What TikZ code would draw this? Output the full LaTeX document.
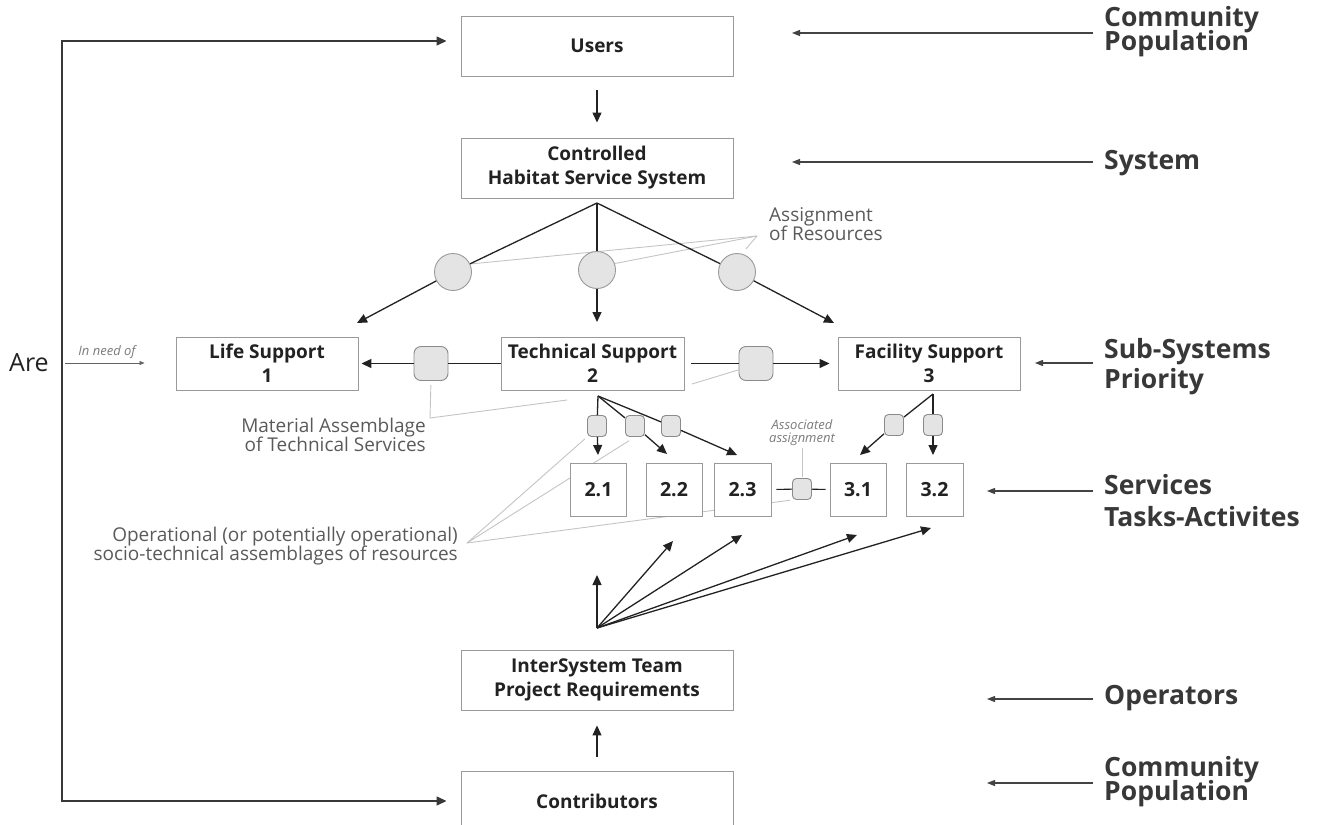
\documentclass[tikz,border=0pt]{standalone}
\usepackage{fontspec}
\setmainfont{Open Sans}
\newfontfamily\ltf{Open Sans}
\usetikzlibrary{arrows.meta}
\pgfdeclarelayer{background}
\pgfsetlayers{background,main}
\definecolor{ink}{HTML}{222222}
\definecolor{frame}{HTML}{9A9A9A}
\definecolor{leadgray}{HTML}{C4C4C4}
\definecolor{knob}{HTML}{E4E4E4}
\definecolor{notegray}{HTML}{5A5A5A}
\newcommand\tightlines{\lineskiplimit=-40pt\lineskip=0pt}
\begin{document}
\begin{tikzpicture}[x=1pt,y=-1pt,
  box/.style={draw=frame, line width=0.9pt, fill=white, inner sep=0pt, align=center,
    text=ink, font=\bfseries\fontsize{19}{24}\selectfont},
  bigbox/.style={box, minimum width=272pt, minimum height=60pt},
  subbox/.style={box, minimum width=182pt, minimum height=53pt},
  svcbox/.style={box, minimum width=56pt, minimum height=53pt, font=\bfseries\fontsize{19.5}{24}\selectfont},
  arr/.style={draw=ink, line width=1.3pt, -{Triangle[length=10pt,width=9pt]}},
  link/.style={draw=ink, line width=1.3pt},
  side/.style={draw=ink!85, line width=1.1pt, -{Triangle[length=8pt,width=6pt]}},
  leader/.style={draw=leadgray, line width=0.9pt},
  disc/.style={circle, draw=frame, fill=knob, line width=0.9pt, minimum size=37pt, inner sep=0pt},
  knobbig/.style={rectangle, rounded corners=7pt, draw=frame!90!black, fill=knob, line width=0.9pt,
    minimum width=34pt, minimum height=34pt, inner sep=0pt},
  knobsmall/.style={rectangle, rounded corners=4pt, draw=frame!90!black, fill=knob, line width=0.9pt,
    minimum width=19pt, minimum height=21pt, inner sep=0pt},
  tag/.style={anchor=west, inner sep=0pt, align=left, text=ink!90,
    font=\bfseries\fontsize{26.5}{24}\selectfont\tightlines},
  note/.style={inner sep=0pt, text=notegray, font=\ltf\fontsize{19}{19}\selectfont\tightlines},
  smallnote/.style={inner sep=0pt, align=center, text=notegray!80, font=\ltf\itshape\fontsize{13}{13}\selectfont\tightlines},
]
\useasboundingbox (0,0) rectangle (1318,825);
\clip (0,0) rectangle (1318,825);

% main column
\node[bigbox] (users) at (597,46) {Users};
\node[bigbox] (ctrl) at (597,168) {Controlled\\Habitat Service System};
\node[subbox] (life) at (267,363.5) {Life Support\\1};
\node[subbox, minimum width=183pt] (tech) at (592.5,363.5) {Technical Support\\2};
\node[subbox] (fac) at (929,363.5) {Facility Support\\3};
\node[svcbox] (s21) at (598.5,489.5) {2.1};
\node[svcbox] (s22) at (674,489.5) {2.2};
\node[svcbox, minimum width=57pt] (s23) at (742.5,489.5) {2.3};
\node[svcbox] (s31) at (858,489.5) {3.1};
\node[svcbox, minimum width=57pt] (s32) at (934.5,489.5) {3.2};
\node[bigbox] (inter) at (597,680) {InterSystem Team\\Project Requirements};
\node[bigbox] (contrib) at (597,801) {Contributors};

% resource assignment discs
\node[disc] (c1) at (453,272) {};
\node[disc] (c2) at (597,270) {};
\node[disc] (c3) at (737,272) {};

% material assemblage knobs
\node[knobbig] (m1) at (431,363.5) {};
\node[knobbig] (m2) at (756,363.5) {};

% service knobs
\node[knobsmall] (ka) at (597,426) {};
\node[knobsmall] (kb) at (635,426) {};
\node[knobsmall] (kc) at (671,426) {};
\node[knobsmall] (kd) at (894,425) {};
\node[knobsmall] (ke) at (933,425) {};
\node[knobsmall] (km) at (802,489) {};

% free points of the fans
\coordinate (capx) at (597,203);
\coordinate (t1) at (357,323);
\coordinate (t2) at (597,322);
\coordinate (t3) at (834,323);
\coordinate (tapx) at (598,396);
\coordinate (ta) at (598,455);
\coordinate (tb) at (667,454);
\coordinate (tc) at (737,455);
\coordinate (fapx) at (933,394);
\coordinate (td) at (860,455);
\coordinate (te) at (933,455);
\coordinate (bapx) at (597,628);
\coordinate (u0) at (597,575);
\coordinate (u1) at (673,541);
\coordinate (u2) at (742,535);
\coordinate (u3) at (857,535);
\coordinate (u4) at (931,528);

% labels
\node[anchor=center, inner sep=0pt, text=ink, font=\fontsize{25}{26}\selectfont] (are) at (29,363) {Are};
\node[smallnote] (need) at (107,352) {In need of};
\node[smallnote] (assoc) at (802,433) {Associated\\assignment};
\node[note, anchor=west, align=left] (asgn) at (769,224) {Assignment\\of Resources};
\node[note, anchor=east, align=right] (mat) at (426,434.5) {Material Assemblage\\of Technical Services};
\node[note, anchor=east, align=right] (oper) at (458,546.5) {Operational (or potentially operational)\\socio-technical assemblages of resources};

\node[tag] (tcom) at (1104,32) {Community\\Population};
\node[tag] (tsys) at (1104,163) {System};
\node[tag, font=\bfseries\fontsize{26.5}{30}\selectfont\tightlines] (tsub) at (1104,367) {Sub-Systems\\Priority};
\node[tag, font=\bfseries\fontsize{26.5}{32}\selectfont\tightlines] (tsvc) at (1104,501) {Services\\Tasks-Activites};
\node[tag] (topr) at (1104,698) {Operators};
\node[tag] (tcom2) at (1104,782) {Community\\Population};

% leader lines behind everything
\begin{pgfonlayer}{background}
  \coordinate (asg) at (757,236);
  \draw[leader] (asg) -- (c1.25);
  \draw[leader] (asg) -- (c2.20);
  \draw[leader, shorten >=6pt] (asg) -- (c3.75);
  \coordinate (mbend) at (430,418);
  \coordinate (mend) at (567,400);
  \coordinate (mseg) at (692,384);
  \draw[leader, shorten <=4pt] (m1.south) -- (mbend) -- (mend);
  \draw[leader] (mseg) -- (m2.200);
  \coordinate (opc) at (467,543);
  \draw[leader, shorten >=3pt] (opc) -- (ka.south west);
  \draw[leader, shorten >=7pt] (opc) -- (kb.south);
  \draw[leader, shorten >=2pt] (opc) -- (km.south west);
  \draw[leader, shorten <=2pt, shorten >=1pt] (assoc.south) -- (km.north);
\end{pgfonlayer}

% connectors
\draw[arr, shorten <=14pt, shorten >=15pt] (users.south) -- (ctrl.north);
\draw[link] (capx) -- (c1);
\draw[link] (capx) -- (c2);
\draw[link] (capx) -- (c3);
\draw[arr] (c1) -- (t1);
\draw[arr] (c2) -- (t2);
\draw[arr] (c3) -- (t3);

\draw[link] (tech.west) -- (m1);
\draw[arr, shorten >=3pt] (m1) -- (life.east);
\draw[link, shorten <=7pt] (tech.east) -- (m2);
\draw[arr, shorten >=8pt] (m2) -- (fac.west);

\draw[link] (tapx) -- (ka);
\draw[link] (tapx) -- (kb);
\draw[link] (tapx) -- (kc);
\draw[arr] (ka) -- (ta);
\draw[arr] (kb) -- (tb);
\draw[arr] (kc) -- (tc);
\draw[link] (fapx) -- (kd);
\draw[link] (fapx) -- (ke);
\draw[arr] (kd) -- (td);
\draw[arr] (ke) -- (te);

\draw[link, line width=1.1pt, shorten <=5pt] (s23.east) -- (km);
\draw[link, line width=1.1pt, shorten >=4pt] (km) -- (s31.west);

\draw[arr] (bapx) -- (u0);
\draw[arr] (bapx) -- (u1);
\draw[arr] (bapx) -- (u2);
\draw[arr] (bapx) -- (u3);
\draw[arr] (bapx) -- (u4);
\draw[arr, line width=1.1pt, shorten <=14pt, shorten >=15pt] (contrib.north) -- (inter.south);

% outer loop
\coordinate (lt) at (62,41);
\coordinate (lb) at (62,801);
\draw[line width=1.3pt, draw=ink!90, {Triangle[length=10pt,width=9pt]}-{Triangle[length=10pt,width=9pt]}]
  ([xshift=-14pt]users.west |- lt) -- (lt) -- (lb) -- ([xshift=-14pt]contrib.west |- lb);
\draw[draw=ink!70, line width=0.7pt, -{Triangle[length=5pt,width=4pt]}, shorten <=16pt, shorten >=31pt]
  (are.east) -- (are.east -| life.west);

% layer arrows on the right
\draw[side, shorten <=11pt] ([yshift=-1pt]tcom.west) -- ++(-312,0);
\draw[side, shorten <=11pt] ([yshift=1pt]tsys.west) -- ++(-312,0);
\draw[side, shorten <=11pt] ([yshift=4pt]tsub.west) -- ++(-69,0);
\draw[side, shorten <=11pt] ([yshift=10pt]tsvc.west) -- ++(-117,0);
\draw[side, shorten <=11pt] ([yshift=-1pt]topr.west) -- ++(-117,0);
\draw[side, shorten <=11pt] ([yshift=-1pt]tcom2.west) -- ++(-117,0);
\end{tikzpicture}
\end{document}
